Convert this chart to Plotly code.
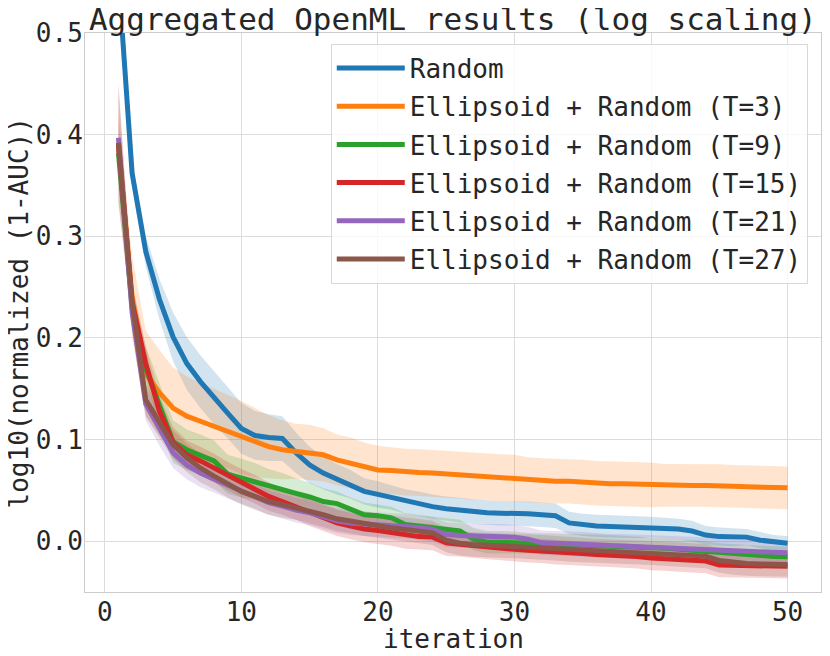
import plotly.graph_objects as go

# iteration index shared by all curves
iterations = list(range(1, 51))

labels = ['Random',
          'Ellipsoid + Random (T=3)',
          'Ellipsoid + Random (T=9)',
          'Ellipsoid + Random (T=15)',
          'Ellipsoid + Random (T=21)',
          'Ellipsoid + Random (T=27)']

colors = ['#1f77b4', '#ff7f0e', '#2ca02c', '#d62728', '#9467bd', '#8c564b']
fills = ['rgba(31,119,180,0.2)', 'rgba(255,127,14,0.2)', 'rgba(44,160,44,0.2)',
         'rgba(214,39,40,0.2)', 'rgba(148,103,189,0.2)', 'rgba(140,86,75,0.2)']

# mean curves
random_mean = [0.555, 0.362, 0.285, 0.238, 0.201, 0.175, 0.157, 0.141, 0.126, 0.111,
               0.104, 0.102, 0.101, 0.087, 0.075, 0.067, 0.061, 0.056, 0.049, 0.046,
               0.043, 0.039, 0.037, 0.034, 0.032, 0.0305, 0.029, 0.028, 0.0275, 0.0275,
               0.027, 0.026, 0.025, 0.018, 0.016, 0.015, 0.0145, 0.014, 0.014, 0.014,
               0.013, 0.012, 0.010, 0.006, 0.0045, 0.004, 0.004, 0.001, -0.001, -0.002]
t3_mean = [0.39, 0.24, 0.165, 0.146, 0.131, 0.123, 0.118, 0.113, 0.108, 0.102,
           0.097, 0.093, 0.090, 0.0885, 0.0875, 0.085, 0.080, 0.077, 0.073, 0.070,
           0.0695, 0.068, 0.0675, 0.067, 0.066, 0.065, 0.064, 0.063, 0.0625, 0.062,
           0.0607, 0.0595, 0.059, 0.059, 0.058, 0.057, 0.0565, 0.0565, 0.056, 0.0554,
           0.055, 0.055, 0.0548, 0.0548, 0.0548, 0.054, 0.0535, 0.053, 0.053, 0.0525]
t9_mean = [0.382, 0.23, 0.17, 0.133, 0.098, 0.090, 0.085, 0.079, 0.066, 0.062,
           0.059, 0.054, 0.051, 0.047, 0.0435, 0.039, 0.037, 0.031, 0.026, 0.025,
           0.023, 0.0164, 0.0148, 0.013, 0.011, 0.010, 0.002, -0.001, -0.001, -0.0015,
           -0.002, -0.002, -0.0025, -0.003, -0.003, -0.0035, -0.004, -0.005, -0.006, -0.0065,
           -0.007, -0.008, -0.009, -0.010, -0.012, -0.013, -0.014, -0.0145, -0.015, -0.0153]
t15_mean = [0.39, 0.235, 0.175, 0.128, 0.097, 0.085, 0.079, 0.072, 0.064, 0.057,
            0.051, 0.044, 0.039, 0.034, 0.028, 0.023, 0.018, 0.015, 0.012, 0.0105,
            0.0085, 0.0055, 0.0045, 0.004, -0.0015, -0.003, -0.0045, -0.006, -0.007, -0.008,
            -0.009, -0.0095, -0.011, -0.0115, -0.012, -0.013, -0.0135, -0.014, -0.015, -0.0165,
            -0.017, -0.018, -0.019, -0.0195, -0.0235, -0.024, -0.024, -0.0245, -0.0245, -0.0246]
t21_mean = [0.397, 0.225, 0.135, 0.110, 0.087, 0.075, 0.067, 0.061, 0.055, 0.050,
            0.044, 0.038, 0.0345, 0.0305, 0.028, 0.024, 0.020, 0.018, 0.017, 0.016,
            0.0155, 0.015, 0.0135, 0.0115, 0.0066, 0.0055, 0.005, 0.005, 0.005, 0.004,
            0.002, -0.0016, -0.002, -0.0025, -0.003, -0.004, -0.0049, -0.005, -0.0055, -0.006,
            -0.0065, -0.007, -0.0075, -0.0082, -0.009, -0.0095, -0.010, -0.0105, -0.011, -0.0115]
t27_mean = [0.392, 0.235, 0.139, 0.117, 0.095, 0.082, 0.072, 0.064, 0.056, 0.049,
            0.044, 0.039, 0.036, 0.033, 0.0295, 0.026, 0.022, 0.0195, 0.017, 0.015,
            0.013, 0.0115, 0.010, 0.0082, 0.001, -0.002, -0.0033, -0.004, -0.0045, -0.0049,
            -0.0055, -0.006, -0.007, -0.0082, -0.009, -0.0095, -0.010, -0.0105, -0.011, -0.0115,
            -0.012, -0.013, -0.014, -0.0147, -0.019, -0.021, -0.022, -0.0225, -0.023, -0.023]

# half width of the shaded bands
random_err = [0.01, 0.012, 0.015, 0.02, 0.024, 0.026, 0.026, 0.026, 0.025, 0.025,
              0.024, 0.023, 0.022, 0.02, 0.018, 0.016, 0.015, 0.014, 0.013, 0.013,
              0.012, 0.012, 0.012, 0.012, 0.012, 0.012, 0.012, 0.012, 0.012, 0.012,
              0.012, 0.012, 0.012, 0.011, 0.011, 0.011, 0.011, 0.011, 0.011, 0.01,
              0.01, 0.01, 0.01, 0.009, 0.009, 0.009, 0.008, 0.008, 0.007, 0.007]
t3_err = [0.03, 0.04, 0.042, 0.042, 0.04, 0.039, 0.038, 0.037, 0.036, 0.036,
          0.034, 0.031, 0.029, 0.027, 0.027, 0.026, 0.025, 0.025, 0.024, 0.024,
          0.023, 0.023, 0.023, 0.023, 0.023, 0.023, 0.023, 0.023, 0.023, 0.023,
          0.022, 0.022, 0.022, 0.022, 0.022, 0.022, 0.022, 0.022, 0.022, 0.022,
          0.021, 0.021, 0.021, 0.021, 0.021, 0.021, 0.021, 0.021, 0.021, 0.021]
t9_err = [0.012, 0.02, 0.022, 0.022, 0.021, 0.02, 0.02, 0.02, 0.019, 0.019,
          0.018, 0.017, 0.016, 0.015, 0.014, 0.013, 0.012, 0.012, 0.012, 0.011,
          0.011, 0.011, 0.011, 0.011, 0.011, 0.011, 0.011, 0.011, 0.011, 0.011,
          0.01, 0.01, 0.01, 0.01, 0.01, 0.01, 0.01, 0.01, 0.01, 0.01,
          0.01, 0.01, 0.01, 0.01, 0.01, 0.01, 0.01, 0.01, 0.01, 0.01]
t15_err = [0.055, 0.02, 0.016, 0.015, 0.015, 0.014, 0.014, 0.014, 0.014, 0.014,
           0.014, 0.014, 0.013, 0.013, 0.013, 0.013, 0.013, 0.013, 0.013, 0.013,
           0.013, 0.013, 0.013, 0.013, 0.013, 0.012, 0.012, 0.012, 0.012, 0.012,
           0.012, 0.012, 0.012, 0.012, 0.012, 0.012, 0.012, 0.012, 0.012, 0.012,
           0.012, 0.012, 0.012, 0.012, 0.012, 0.012, 0.012, 0.012, 0.012, 0.012]
t21_err = [0.01, 0.016, 0.016, 0.016, 0.015, 0.014, 0.014, 0.013, 0.013, 0.013,
           0.012, 0.012, 0.012, 0.012, 0.012, 0.012, 0.012, 0.012, 0.012, 0.012,
           0.012, 0.012, 0.012, 0.012, 0.012, 0.012, 0.012, 0.012, 0.012, 0.012,
           0.012, 0.012, 0.012, 0.012, 0.012, 0.012, 0.012, 0.012, 0.012, 0.012,
           0.012, 0.012, 0.012, 0.012, 0.012, 0.012, 0.012, 0.012, 0.012, 0.012]
t27_err = [0.06, 0.02, 0.016, 0.015, 0.014, 0.014, 0.014, 0.013, 0.013, 0.013,
           0.013, 0.013, 0.013, 0.012, 0.012, 0.012, 0.012, 0.012, 0.012, 0.012,
           0.012, 0.012, 0.012, 0.012, 0.012, 0.012, 0.012, 0.012, 0.012, 0.012,
           0.012, 0.012, 0.012, 0.012, 0.012, 0.012, 0.012, 0.012, 0.012, 0.012,
           0.012, 0.012, 0.012, 0.012, 0.012, 0.012, 0.012, 0.012, 0.012, 0.012]

means = [random_mean, t3_mean, t9_mean, t15_mean, t21_mean, t27_mean]
errs = [random_err, t3_err, t9_err, t15_err, t21_err, t27_err]

FONT = 'DejaVu Sans Mono'
TXT = '#262626'

fig = go.Figure()

# bands first (matplotlib puts fill_between under the lines)
for m, e, fc in zip(means, errs, fills):
    upper = [a + b for a, b in zip(m, e)]
    lower = [a - b for a, b in zip(m, e)]
    fig.add_trace(go.Scatter(x=iterations + iterations[::-1], y=upper + lower[::-1],
                             fill='toself', fillcolor=fc, line=dict(width=0),
                             mode='lines', hoverinfo='skip', showlegend=False))

# one legend group per line so tracegroupgap spaces the entries like the original
for k, (m, name, c) in enumerate(zip(means, labels, colors)):
    fig.add_trace(go.Scatter(x=iterations, y=m, name=name, mode='lines', legendgroup=str(k),
                             line=dict(color=c, width=5)))

# page body has an 8px margin, so the figure is a bit smaller than the window
fig.update_layout(
    width=814, height=640,
    margin=dict(l=77, r=1, t=25, b=56, autoexpand=False),
    plot_bgcolor='white', paper_bgcolor='white',
    font=dict(family=FONT, size=26, color=TXT),
    title=dict(text='Aggregated OpenML results (log scaling)', font=dict(size=31, color=TXT),
               x=0.5465, xanchor='center', yref='container', y=1.0, yanchor='top'),
    legend=dict(x=0.982, xanchor='right', y=0.981, yanchor='top', itemwidth=68,
                tracegroupgap=1.4,
                bgcolor='rgba(255,255,255,0.8)', bordercolor='#d8d8d8', borderwidth=1,
                font=dict(size=26, color=TXT)),
    showlegend=True,
    annotations=[
        dict(text='iteration', xref='paper', yref='paper', x=0.5, y=-0.084,
             xanchor='center', yanchor='middle', showarrow=False, font=dict(size=26)),
        dict(text='log10(normalized (1-AUC))', xref='paper', yref='paper', x=-0.0897, y=0.5,
             xanchor='center', yanchor='middle', textangle=-90, showarrow=False,
             font=dict(size=26)),
    ],
)

fig.update_xaxes(range=[-1.45, 52.45], tickvals=[0, 10, 20, 30, 40, 50],
                 showgrid=True, gridcolor='#dcdcdc', gridwidth=1,
                 showline=True, linecolor='#cccccc', linewidth=1, mirror=True,
                 zeroline=False, ticks='', automargin=False, ticklabelstandoff=-3)
fig.update_yaxes(range=[-0.05, 0.5], tickvals=[0.0, 0.1, 0.2, 0.3, 0.4, 0.5], tickformat='.1f',
                 showgrid=True, gridcolor='#dcdcdc', gridwidth=1,
                 showline=True, linecolor='#cccccc', linewidth=1, mirror=True,
                 zeroline=False, ticks='', automargin=False, ticklabelstandoff=-4)

fig.write_html("out.html")
